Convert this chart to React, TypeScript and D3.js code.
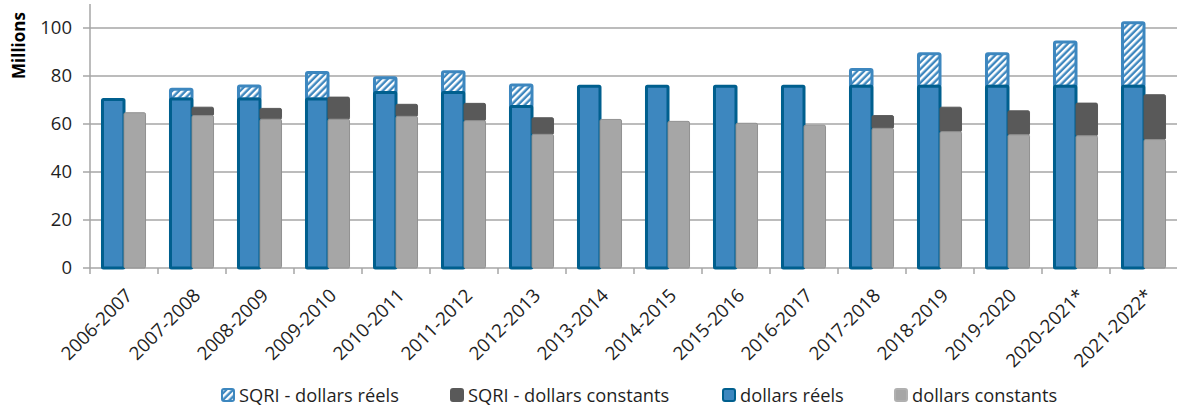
import React from "react";
import * as d3 from "d3";

const categories = ["2006-2007","2007-2008","2008-2009","2009-2010","2010-2011","2011-2012","2012-2013","2013-2014","2014-2015","2015-2016","2016-2017","2017-2018","2018-2019","2019-2020","2020-2021*","2021-2022*"];
const dollarsReels = [70.2,70.4,70.4,70.4,73.1,73.1,67.3,75.7,75.7,75.7,75.7,75.7,75.7,75.7,75.7,75.7];
const sqriReels = [0,4.1,5.4,11.1,6.2,8.7,8.9,0,0,0,0,7.0,13.6,13.6,18.5,26.5];
const dollarsConstants = [64.7,63.5,62.0,62.0,63.2,61.4,55.7,61.9,61.1,60.3,59.5,58.2,56.8,55.5,55.1,53.5];
const sqriConstants = [0,3.5,4.5,9.2,5.0,7.2,6.9,0,0,0,0,5.3,10.2,10.0,13.6,18.7];
const yTicks = [0,20,40,60,80,100];
const legendLabels = ["SQRI - dollars réels","SQRI - dollars constants","dollars réels","dollars constants"];

const W = 1177, H = 409;
const FONT = "'Open Sans', 'Noto Sans', sans-serif";
const BLUE = "#3d87bf";
const BLUE_DARK = "#005f8e";
const DARK_GRAY = "#595959";
const LIGHT_GRAY = "#a6a6a6";
const GRID = "#a6a6a6";
const TEXT = "#1f1f1f";

export default function App() {
  const x = d3.scaleBand<string>().domain(categories).range([90, 90 + 68 * 16]).paddingInner(0).paddingOuter(0);
  const inner = d3.scaleBand<string>().domain(["r", "c"]).range([0, x.bandwidth()]).paddingInner(0).paddingOuter(0.58);
  const y = d3.scaleLinear().domain([0, 110]).range([268, 4]);
  const bw = inner.bandwidth();

  const legendX = [221, 450, 722, 894];

  return (
    <div style={{ position: "absolute", left: 0, top: 0 }}>
      <svg width={W} height={H} style={{ display: "block", background: "#fff" }} fontFamily={FONT}>
        <defs>
          <pattern id="hatch" patternUnits="userSpaceOnUse" width="4.8" height="4.8" patternTransform="rotate(45)">
            <rect width="4.8" height="4.8" fill={BLUE} />
            <rect width="2.4" height="4.8" fill="#ffffff" />
          </pattern>
        </defs>
        {yTicks.filter(t => t > 0).map(t => (
          <line key={t} x1={90} x2={W} y1={y(t)} y2={y(t)} stroke={GRID} strokeWidth={1.5} />
        ))}
        <line x1={90} x2={90} y1={y(110)} y2={y(0)} stroke={GRID} strokeWidth={1.5} />
        {yTicks.map(t => (
          <g key={t}>
            <line x1={83} x2={90} y1={y(t)} y2={y(t)} stroke={GRID} strokeWidth={1.5} />
            <text x={72} y={y(t)} dy="0.35em" textAnchor="end" fontSize={18.5} fill={TEXT}>{t}</text>
          </g>
        ))}
        <text transform={`translate(25,${45.5}) rotate(-90)`} textAnchor="middle" fontSize={17} fontWeight="bold" fill="#000">Millions</text>
        <line x1={90} x2={W} y1={y(0)} y2={y(0)} stroke={GRID} strokeWidth={1.5} />
        {categories.map(c => (
          <line key={c} x1={(x(c) as number)} x2={(x(c) as number)} y1={y(0)} y2={y(0) + 6} stroke={GRID} strokeWidth={1.5} />
        ))}
        {categories.map((c, i) => {
          const x0 = x(c) as number;
          const xr = x0 + (inner("r") as number);
          const xc = x0 + (inner("c") as number);
          return (
            <g key={c}>
              {sqriReels[i] > 0 && (
                <rect x={xr} y={y(dollarsReels[i] + sqriReels[i])} width={bw} height={y(dollarsReels[i]) - y(dollarsReels[i] + sqriReels[i])}
                  fill="url(#hatch)" stroke={BLUE} strokeWidth={3} rx={1.5} />
              )}
              <rect x={xr} y={y(dollarsReels[i])} width={bw} height={y(0) - y(dollarsReels[i])}
                fill={BLUE} stroke={BLUE_DARK} strokeWidth={3} rx={1} />
              {sqriConstants[i] > 0 && (
                <rect x={xc} y={y(dollarsConstants[i] + sqriConstants[i])} width={bw} height={y(dollarsConstants[i]) - y(dollarsConstants[i] + sqriConstants[i])}
                  fill={DARK_GRAY} stroke={DARK_GRAY} strokeWidth={1} rx={1.5} />
              )}
              <rect x={xc} y={y(dollarsConstants[i])} width={bw} height={y(0) - y(dollarsConstants[i])}
                fill={LIGHT_GRAY} stroke="#919191" strokeWidth={1} rx={1.5} />
            </g>
          );
        })}
        {categories.map(c => {
          const cx = (x(c) as number) + x.bandwidth() / 2;
          return (
            <text key={c} transform={`translate(${cx + 5},${292}) rotate(-45)`} textAnchor="end" dy="0.35em" fontSize={18.7} fill={TEXT}>{c}</text>
          );
        })}
        {legendLabels.map((l, i) => {
          const lx = legendX[i];
          const fill = i === 0 ? "url(#hatch)" : i === 1 ? DARK_GRAY : i === 2 ? BLUE : LIGHT_GRAY;
          const stroke = i === 0 ? BLUE : i === 1 ? DARK_GRAY : i === 2 ? BLUE_DARK : "#b0b0b0";
          return (
            <g key={l}>
              <rect x={lx + 1} y={389} width={12} height={12} fill={fill} stroke={stroke} strokeWidth={2} rx={2} />
              <text x={lx + 18} y={401.5} fontSize={18.3} fill={TEXT}>{l}</text>
            </g>
          );
        })}
      </svg>
    </div>
  );
}
